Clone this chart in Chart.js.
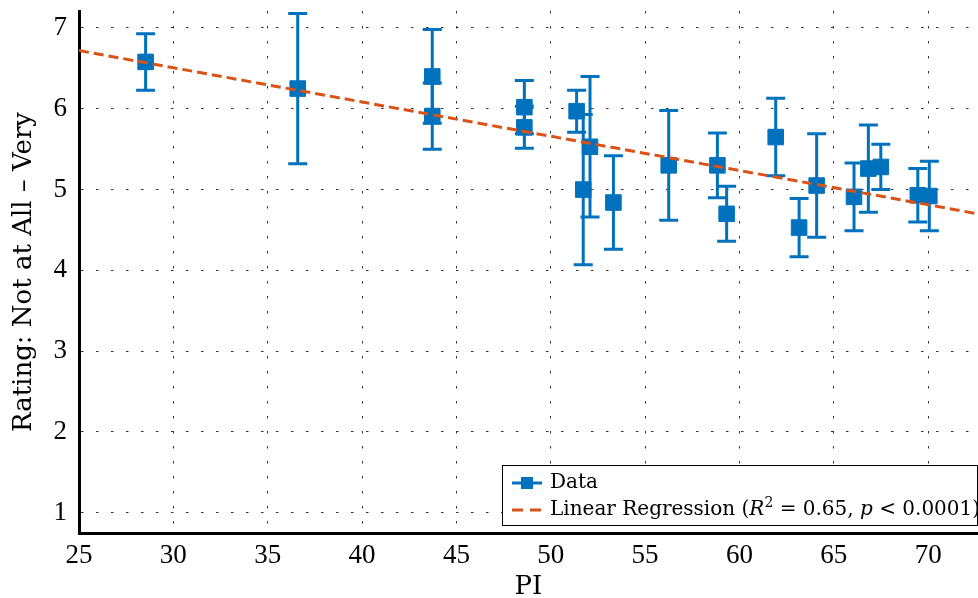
<!DOCTYPE html>
<html>
<head>
<meta charset="utf-8">
<script src="https://cdn.jsdelivr.net/npm/chart.js@4.4.0/dist/chart.umd.min.js"></script>
<style>
  html, body { margin: 0; padding: 0; background: #fff; overflow: hidden; }
</style>
</head>
<body>
<canvas id="myChart" width="978" height="598"></canvas>
<script>
// дані
const piValues = [28.53, 36.59, 43.72, 43.72, 48.6, 48.6, 51.37, 51.72, 52.08, 53.32, 56.25,
  58.83, 59.32, 61.92, 63.16, 64.09, 66.07, 66.83, 67.49, 69.45, 70.06];
const ratings = [6.58, 6.25, 6.40, 5.91, 6.02, 5.77, 5.97, 5.00, 5.53, 4.84, 5.30,
  5.30, 4.70, 5.65, 4.53, 5.05, 4.91, 5.26, 5.28, 4.93, 4.92];
const errors = [0.35, 0.93, 0.58, 0.41, 0.33, 0.26, 0.26, 0.93, 0.87, 0.58, 0.68,
  0.40, 0.34, 0.48, 0.36, 0.64, 0.42, 0.54, 0.28, 0.33, 0.43];

// кінці лінії регресії
const regX = [25, 72.64];
const regY = [6.72, 4.70];

const xTicks = [25, 30, 35, 40, 45, 50, 55, 60, 65, 70];
const yTicks = [1, 2, 3, 4, 5, 6, 7];

const blue = '#0072BD';
const orange = '#D95319';
const serif = '"DejaVu Serif", serif';
const tickFont = '"Liberation Serif", serif';

// вертикальні похибки під маркерами
const errorBars = {
  id: 'errorBars',
  beforeDatasetsDraw(chart) {
    const { ctx, scales: { x, y } } = chart;
    ctx.save();
    ctx.strokeStyle = blue;
    ctx.lineWidth = 3;
    piValues.forEach((p, i) => {
      const px = x.getPixelForValue(p);
      const top = y.getPixelForValue(ratings[i] + errors[i]);
      const bot = y.getPixelForValue(ratings[i] - errors[i]);
      ctx.beginPath();
      ctx.moveTo(px, top);
      ctx.lineTo(px, bot);
      ctx.moveTo(px - 9.5, top);
      ctx.lineTo(px + 9.5, top);
      ctx.moveTo(px - 9.5, bot);
      ctx.lineTo(px + 9.5, bot);
      ctx.stroke();
    });
    ctx.restore();
  }
};

// легенда з курсивом R та p
const mathLegend = {
  id: 'mathLegend',
  afterDraw(chart) {
    const ctx = chart.ctx;
    const bx = 502.5, by = 465.5, bw = 475, bh = 60;
    ctx.save();
    ctx.fillStyle = '#fff';
    ctx.fillRect(bx, by, bw, bh);
    ctx.strokeStyle = '#000';
    ctx.lineWidth = 1;
    ctx.strokeRect(bx, by, bw, bh);

    // Data
    const y1 = 483, y2 = 510;
    ctx.strokeStyle = blue;
    ctx.lineWidth = 3;
    ctx.beginPath();
    ctx.moveTo(512, y1);
    ctx.lineTo(542, y1);
    ctx.stroke();
    ctx.fillStyle = blue;
    ctx.fillRect(521, y1 - 6, 12, 12);

    // Linear Regression
    ctx.strokeStyle = orange;
    ctx.beginPath();
    ctx.moveTo(512, y2);
    ctx.lineTo(523, y2);
    ctx.moveTo(530, y2);
    ctx.lineTo(541, y2);
    ctx.stroke();

    ctx.fillStyle = '#000';
    ctx.textBaseline = 'middle';
    ctx.textAlign = 'left';
    const size = 20;
    ctx.font = size + 'px ' + serif;
    ctx.fillText('Data', 550, y1);

    const parts = [
      ['Linear Regression (', ''],
      ['R', 'italic'],
      ['2', 'sup'],
      [' = 0.65, ', ''],
      ['p', 'italic'],
      [' < 0.0001)', '']
    ];
    let tx = 550;
    parts.forEach(([t, style]) => {
      let ty = y2;
      if (style === 'italic') ctx.font = 'italic ' + size + 'px ' + serif;
      else if (style === 'sup') { ctx.font = '14px ' + serif; ty = y2 - 7; }
      else ctx.font = size + 'px ' + serif;
      ctx.fillText(t, tx, ty);
      tx += ctx.measureText(t).width;
    });
    ctx.restore();
  }
};

const config = {
  type: 'scatter',
  data: {
    datasets: [
      {
        type: 'line',
        label: 'Linear Regression',
        data: regX.map((v, i) => ({ x: v, y: regY[i] })),
        borderColor: orange,
        borderWidth: 3,
        borderDash: [10, 5],
        pointRadius: 0,
        fill: false,
        order: 0
      },
      {
        label: 'Data',
        data: piValues.map((v, i) => ({ x: v, y: ratings[i] })),
        backgroundColor: blue,
        borderColor: blue,
        borderWidth: 1,
        pointStyle: 'rect',
        pointRadius: 11,
        pointHoverRadius: 11,
        order: 1
      }
    ]
  },
  options: {
    responsive: false,
    animation: false,
    devicePixelRatio: 1,
    layout: { autoPadding: false, padding: { top: 11, right: 0, bottom: 0, left: 0 } },
    plugins: {
      legend: { display: false },
      tooltip: { enabled: false }
    },
    scales: {
      x: {
        type: 'linear',
        min: 25,
        max: 72.64,
        afterBuildTicks: (scale) => { scale.ticks = xTicks.map(v => ({ value: v })); },
        afterFit: (scale) => {
          scale.height = 65;
          scale.paddingLeft = 0;
          scale.paddingRight = 0;
        },
        ticks: {
          color: '#000',
          font: { family: tickFont, size: 27 },
          padding: 7,
          maxRotation: 0
        },
        grid: { color: '#333', lineWidth: 1, drawTicks: false },
        border: { display: true, color: '#000', width: 3, dash: [2.5, 12.5] },
        title: {
          display: true,
          text: 'PI',
          color: '#000',
          font: { family: serif, size: 26, lineHeight: 0.85 },
          padding: { top: 0, bottom: 0 }
        }
      },
      y: {
        min: 0.75,
        max: 7.21,
        afterBuildTicks: (scale) => { scale.ticks = yTicks.map(v => ({ value: v })); },
        afterFit: (scale) => {
          scale.width = 79;
          scale.paddingTop = 0;
          scale.paddingBottom = 0;
        },
        ticks: {
          color: '#000',
          font: { family: tickFont, size: 27 },
          padding: 12
        },
        grid: { color: '#333', lineWidth: 1, drawTicks: false },
        border: { display: true, color: '#000', width: 3, dash: [2.5, 12.5] },
        title: {
          display: true,
          text: 'Rating: Not at All – Very',
          color: '#000',
          font: { family: serif, size: 26, lineHeight: 1 },
          padding: { top: 11, bottom: 0 }
        }
      }
    }
  },
  plugins: [errorBars, mathLegend]
};

const ctx = document.getElementById('myChart');
const myChart = new Chart(ctx, config);
</script>
</body>
</html>
